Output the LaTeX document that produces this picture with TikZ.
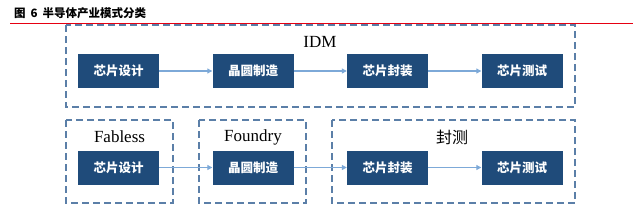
\documentclass[tikz,border=0pt]{standalone}
\usepackage{fontspec}
\setmainfont{Liberation Serif}
\newfontfamily\cjk{Noto Sans CJK SC}
\usetikzlibrary{arrows.meta,positioning}
\definecolor{boxA}{HTML}{1F4B7A}
\definecolor{lineA}{HTML}{7DA9D8}
\definecolor{dashA}{HTML}{5B7FA8}
\definecolor{captionRed}{RGB}{230,0,18}

\begin{document}
\begin{tikzpicture}[x=1pt,y=-1pt,
    stage/.style={fill=boxA, text=white, minimum width=81pt, minimum height=34pt,
      inner sep=0pt, font=\cjk\fontsize{12.5}{13}\selectfont\bfseries},
    group/.style={dashA, line width=1.2pt, dash pattern=on 7pt off 4pt},
    flow/.style={lineA, line width=1.1pt, -{Triangle[length=5pt,width=5pt]}},
    grouplabel/.style={font=\fontsize{17}{18}\selectfont}]
  \useasboundingbox (0,0) rectangle (640,212);

  % caption and rule
  \node[anchor=west, inner sep=0pt, font=\cjk\fontsize{11.5}{12}\selectfont\bfseries] (title) at (14,13.5)
    {图\hspace{5pt}6\hspace{5pt}半导体产业模式分类};
  \fill[captionRed] (10,22.6) rectangle (633,24.2);

  % IDM group
  \draw[group] (66,25) rectangle (575,107);
  \node[grouplabel] (idm) at (320,42) {IDM};
  \node[stage] (d1) at (118.5,71) {芯片设计};
  \node[stage] (d2) at (253,71) {晶圆制造};
  \node[stage] (d3) at (387.5,71) {芯片封装};
  \node[stage] (d4) at (522,71) {芯片测试};
  \draw[flow] (d1) -- (d2);
  \draw[flow] (d2) -- (d3);
  \draw[flow] (d3) -- (d4);

  % split groups
  \draw[group] (66,120) rectangle (173,203);
  \draw[group] (199,120) rectangle (306,203);
  \draw[group] (332,120) rectangle (575,203);
  \node[grouplabel] (fabless) at (119.5,137) {Fabless};
  \node[grouplabel] (foundry) at (253,137) {Foundry};
  \node[grouplabel, font=\cjk\fontsize{16}{17}\selectfont] (osat) at (452,137) {封测};
  \node[stage] (s1) at (118.5,167.5) {芯片设计};
  \node[stage] (s2) at (253,167.5) {晶圆制造};
  \node[stage] (s3) at (387.5,167.5) {芯片封装};
  \node[stage] (s4) at (522,167.5) {芯片测试};
  \draw[flow] (s1) -- (s2);
  \draw[flow] (s2) -- (s3);
  \draw[flow] (s3) -- (s4);
\end{tikzpicture}
\end{document}
